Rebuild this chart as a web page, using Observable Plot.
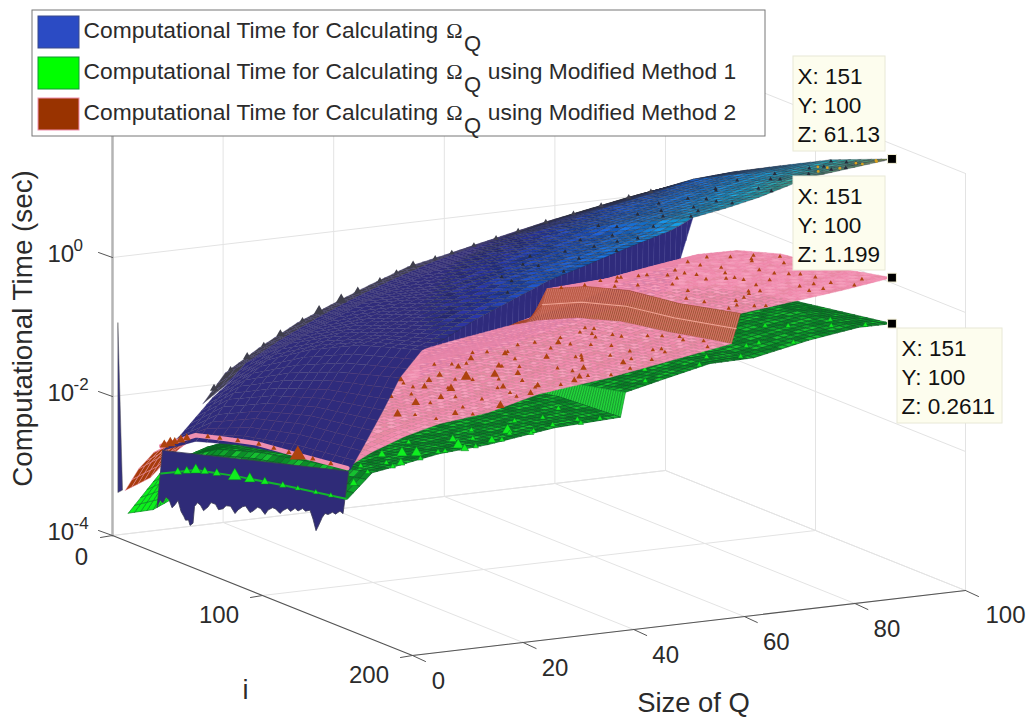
<!DOCTYPE html>
<html><head><meta charset="utf-8">
<style>html,body{margin:0;padding:0;background:#fff}svg{display:block}</style>
<script src="https://cdn.jsdelivr.net/npm/d3@7"></script>
<script src="https://cdn.jsdelivr.net/npm/@observablehq/plot@0.6"></script>
</head><body><div id="chart"></div>
<script>
// ---- Axis ticks
const qTicks=[0,20,40,60,80,100];
const iTicks=[0,100,200];
const zExp=[-4,-2,0,2];
// ---- Surfaces: decades above 10^-4 s, rows by Size of Q, columns by i
const blueI=[5,26,48,77,110,151];
const blueQ=[2,5,8,11,15,19,25,32,38,45,52,60,64,70,76,85,92,100];
const blueL=[
[null,1.43,1.75,1.95,2.10,2.22],
[null,1.60,2.00,2.30,2.50,2.62],
[null,1.85,2.30,2.60,2.85,3.03],
[null,2.10,2.55,2.90,3.20,3.47],
[1.80,2.35,2.80,3.20,3.55,3.83],
[2.20,2.60,3.00,3.35,3.65,3.95],
[2.50,2.85,3.20,3.55,3.85,4.19],
[2.80,3.10,3.45,3.75,4.05,4.42],
[3.00,3.30,3.60,3.90,4.25,4.62],
[3.22,3.50,3.80,4.10,4.40,4.78],
[3.42,3.67,3.95,4.25,4.55,4.95],
[3.55,3.85,4.10,4.40,4.70,5.13],
[3.62,3.92,4.20,4.50,4.85,5.28],
[3.72,4.02,4.30,4.60,4.95,5.36],
[3.82,4.12,4.42,4.72,5.05,5.46],
[3.95,4.25,4.55,4.88,5.22,5.66],
[4.05,4.35,4.68,5.00,5.32,5.72],
[4.14,4.43,4.72,5.05,5.42,5.786]];
const curtainQ=[14.7,25,38,50,60,62,64];
const curtainI=[150,151];
const curtainL=[[3.10,3.83],[3.40,4.19],[3.60,4.62],[3.80,4.95],[4.30,5.13],[4.70,5.20],[5.20,5.28]];
const pinkI=[3,12,22,48,77,110,151];
const pinkQ=[1.5,6,12,18,27,36,49,60,71,72.6,83,91,100];
const pinkL=[
[0.66,1.05,1.37,1.90,2.05,2.15,2.27],
[0.80,1.20,1.50,2.00,2.20,2.35,2.45],
[1.25,1.40,1.65,2.10,2.35,2.50,2.62],
[1.45,1.55,1.75,2.20,2.40,2.55,2.74],
[1.65,1.70,1.90,2.30,2.50,2.65,2.82],
[1.85,1.90,2.05,2.42,2.60,2.78,3.00],
[2.10,2.15,2.25,2.55,2.75,2.92,3.12],
[2.25,2.30,2.40,2.68,2.88,3.05,3.26],
[2.38,2.49,2.62,2.88,3.08,3.21,3.40],
[2.42,2.55,3.06,3.32,3.51,3.61,3.82],
[2.60,2.85,3.10,3.42,3.60,3.72,3.91],
[2.80,3.00,3.20,3.50,3.68,3.82,3.98],
[3.00,3.10,3.30,3.58,3.78,3.88,4.079]];
const greenI=[5,26,48,77,110,151];
const greenQ=[1.5,6,10,18,27,39,50.9,51.8,59,67,75,85,94,100];
const greenL=[
[0.35,1.10,1.30,1.50,1.65,1.81],
[0.36,1.30,1.60,1.80,1.95,2.15],
[0.50,1.40,1.65,1.85,2.00,2.20],
[1.05,1.50,1.75,1.95,2.10,2.31],
[1.25,1.60,1.85,2.05,2.20,2.36],
[1.50,1.80,2.00,2.20,2.35,2.49],
[1.70,2.00,2.20,2.32,2.47,2.53],
[1.75,2.10,2.30,2.50,2.68,2.88],
[1.90,2.25,2.45,2.65,2.80,3.01],
[2.05,2.40,2.60,2.80,2.97,3.15],
[2.20,2.50,2.75,2.93,3.05,3.16],
[2.40,2.65,2.85,3.05,3.20,3.32],
[2.55,2.80,2.95,3.15,3.30,3.42],
[2.65,2.85,3.00,3.15,3.27,3.417]];
// ---- The row of the smallest Q, read along i
const wallI=[26,28,30,32,34,36,38,40,42,44,45,47,48,50,51,53,55,57,60,62,65,67,70,72,75,78,80,83,85,88,90,93,95,98,100,103,105,108,110,113,115,118,120,123,125,128,130,132,133,135,136,138,140,143,145,148,150];
const wallL=[.62,.74,.72,.82,.80,.70,.76,.84,.70,.64,.60,.62,.55,.60,.85,.92,.90,.84,.92,1.00,1.00,.94,.98,1.04,1.06,.98,1.05,1.12,1.15,1.08,1.12,1.20,1.20,1.14,1.22,1.28,1.28,1.24,1.30,1.36,1.33,1.40,1.38,1.44,1.42,1.46,1.35,1.20,1.25,1.36,1.42,1.50,1.50,1.56,1.55,1.62,1.60];
const pinkStripI=[27,50,70,90,120,151];
const pinkStripL=[1.51,1.86,1.98,2.09,2.17,2.26];
const greenStripI=[27,50,76,110,150];
const greenStripL=[1.11,1.36,1.50,1.65,1.81];
const stripBrownI=[29,33,36,40,44,58,66,78,92,102,112,118,128,140];
const stripBrownR=[3.5,4,3,3.5,3,2,2,2,2,2,2,6,2,2];
const stripLimeI=[38,44,50,56,64,76,86,96,108,118,130,140];
const stripLimeR=[3,3,4,3,3,5,4,3,2.5,2,2,2];
// ---- Small spikes on the surfaces
const pinkSpeckQ=[19,22,24,27,29,31,23,26,33,36,38,41,28,34,39,44,47,50,30,37,43,49,53,56,59,35,42,48,55,60,63,66,45,52,58,64,68,70,40,46,54,61,67,69,25,32,21,57,62,51,65,
 74,76,78,80,82,84,86,88,90,92,94,96,98,75,79,83,87,91,95,99,77,81,85,89,93,97,74,78,82,86,90,94,
 18,20,23,25,28,30,32,35,37,40,42,44,47,49,52,54,57,59,62,64,66,69,20,24,27,31,34,38,41,45,48,51,55,58,61,65,68,22,26,29,33,36,39,43,46,50,53,56,60,63,67,70,
 73,75,77,79,81,83,85,87,89,91,93,95,97,99,74,76,80,84,88,92,96,78,82,86,90,94,98];
const pinkSpeckI=[120,98,140,74,112,132,70,88,104,146,78,122,60,66,92,108,138,84,148,124,72,116,94,134,64,82,100,62,110,76,128,96,142,70,118,86,106,136,136,88,146,120,68,126,110,90,84,60,104,126,80,
 42,70,96,126,54,86,112,140,60,92,122,72,104,118,34,64,100,132,46,80,144,52,76,110,136,90,138,148,122,58,74,148,
 105,128,88,148,96,118,76,136,92,110,144,64,98,126,58,114,82,142,70,130,90,112,142,66,134,86,144,100,122,70,140,52,106,132,94,72,146,82,116,62,102,124,138,56,90,148,68,106,84,136,74,120,
 30,106,52,82,38,118,68,94,130,48,108,76,142,90,62,136,44,122,84,102,58,128,74,92,142,112,66];
const pinkSpeckR=[4,3,3,4,3,2,3,5,4,3,3,2,3,4,5,3,3,2,4,3,3,2,3,3,2,3,4,3,2,3,2,2,3,3,2,2,2,2,3,3,2,2,2,2,4,3,3,2,2,3,2,
 2,2,2,2,2,2,2,2,2,2,2,2,2,2,2,2,2,2,2,2,2,2,2,2,2,2,2,2,2,2,2,2,
 2,2,2,2,2,2,2,2,2,2,2,2,2,2,2,2,2,2,2,2,2,2,2,2,2,2,2,2,2,2,2,2,2,2,2,2,2,2,2,2,2,2,2,2,2,2,2,2,2,2,2,2,
 2,2,2,2,2,2,2,2,2,2,2,2,2,2,2,2,2,2,2,2,2,2,2,2,2,2,2];
const greenSpeckQ=[4,8,12,14,17,19,21,24,26,29,31,34,36,38,42,45,47,11,16,23,28,33,57,61,66,70,74,78,83,88,92,96,63,72,80,86,94,6,10,15,20,25,30,35,40,44,48];
const greenSpeckI=[146,136,148,128,140,147,120,142,131,146,125,138,148,128,132,144,124,142,134,150,137,143,145,130,148,138,146,135,148,126,140,148,120,128,136,118,132,148,150,150,148,150,149,150,146,150,148];
const greenSpeckR=[3,2,3,3,4,2,2,4,3,3,2,4,2,2,2,2,2,2,4,3,2,2,2,2,2,2,2,2,2,2,2,2,2,2,2,2,2,2,2,2,2,2,2,2,2,2,2];
const ridgeQ=[14,17,20,23,26,29,33,36,40,43,47,50,53,57,60,64,68,72,77,82,87,92,96];
const ridgeR=[2,3,2,3,2,3,2,4,4,3,2,2,3,2,2,2,2,2,2,2,2,2,2];
const blueSpeckQ=[34,38,42,45,48,51,54,57,60,62,65,67,69,71,73,75,77,79,81,83,85,87,89,91,93,95,97,99,46,52,58,64,70,76,82,88,94,40,50,56,63,72,78,86,92,98];
const blueSpeckI=[138,126,146,118,134,148,122,140,112,132,146,120,136,104,144,126,112,148,132,96,142,118,136,106,146,124,138,114,104,110,98,88,92,84,100,92,118,112,94,130,104,122,96,128,140,128];
const orangeQ=[91,93,94,96,97,98,99,95];
const orangeI=[135,142,130,146,138,148,144,120];
const toneOrder=[0,2,1,3,0,1,2,0,3,1,0,2,3,1,0,3,2,1,0,2,1,3,1];
// ---- Data tips
const tipI=[151,151,151];
const tipQ=[100,100,100];
const tipZ=[61.13,1.199,0.2611];
const legendNames=["Computational Time for Calculating","Computational Time for Calculating","Computational Time for Calculating"];
const legendTails=[""," using Modified Method 1"," using Modified Method 2"];
const legendColors=["#2b4bc4","#00ff00","#993300"];
const legendEdges=["#3a4a8a","#109a30","#f08fae"];

// Oblique view of the box (i, size of Q, decades) onto the picture
const px=(q,i)=>112+5.53*q+1.5*i;
const py=(q,i,l)=>535-0.65*q+0.6*i-69.5*l;
const P=(q,i,l)=>({x:px(q,i),y:py(q,i,l)});

function at(Qs,Is,rows,q,i){
  const a=Math.min(Qs.length-2,Math.max(0,d3.bisectRight(Qs,q)-1));
  const b=Math.min(Is.length-2,Math.max(0,d3.bisectRight(Is,i)-1));
  const u=(q-Qs[a])/(Qs[a+1]-Qs[a]),v=(i-Is[b])/(Is[b+1]-Is[b]);
  const r=rows;
  return (1-u)*((1-v)*r[a][b]+v*r[a][b+1])+u*((1-v)*r[a+1][b]+v*r[a+1][b+1]);
}
// faces of a table, far faces first
function faces(Qs,Is,rows,look){
  const out=[];let id=0;
  for(let a=Qs.length-2;a>=0;a--)for(let b=0;b<Is.length-1;b++){
    if([rows[a][b],rows[a][b+1],rows[a+1][b],rows[a+1][b+1]].some(v=>v==null))continue;
    const s=look(Qs[a],Qs[a+1],Is[b],Is[b+1]);
    const nq=Math.max(1,Math.ceil((Qs[a+1]-Qs[a])/s.dq)),ni=Math.max(1,Math.ceil((Is[b+1]-Is[b])/s.di));
    const L=(u,v)=>(1-u)*((1-v)*rows[a][b]+v*rows[a][b+1])+u*((1-v)*rows[a+1][b]+v*rows[a+1][b+1]);
    for(let m=nq-1;m>=0;m--)for(let n=0;n<ni;n++){
      const u0=m/nq,u1=(m+1)/nq,v0=n/ni,v1=(n+1)/ni;
      const q0=Qs[a]+u0*(Qs[a+1]-Qs[a]),q1=Qs[a]+u1*(Qs[a+1]-Qs[a]);
      const i0=Is[b]+v0*(Is[b+1]-Is[b]),i1=Is[b]+v1*(Is[b+1]-Is[b]);
      const mean=(L(u0,v0)+L(u1,v0)+L(u0,v1)+L(u1,v1))/4;
      id++;
      const st=s.paint(mean,(i0+i1)/2,(q0+q1)/2,toneOrder[id%toneOrder.length]);
      [[q0,i0,L(u0,v0)],[q1,i0,L(u1,v0)],[q1,i1,L(u1,v1)],[q0,i1,L(u0,v1)],[q0,i0,L(u0,v0)]].forEach(c=>{
        out.push({...P(c[0],c[1],c[2]),cell:id,fill:st[0],stroke:st[1]});
      });
    }
  }
  return out;
}
const blueRamp=d3.scaleLinear().domain([3.85,4.2,4.6,4.95,5.25,5.5,5.7,5.79])
  .range(["#2f2b7c","#26329e","#1a55c4","#1678d8","#159cd0","#2aa9a4","#5fa074","#a09040"]).clamp(true);
const shade=[.92,1,1.1,.85];
const blueFaces=faces(blueQ,blueI,blueL,()=>({dq:1.4,di:8,paint:(l,i,q,t)=>{
  const c=d3.rgb(i<20?"#41404c":blueRamp(l));
  const f=l<4?1:shade[t];
  return [`rgb(${c.r*f},${c.g*f},${c.b*f})`,l<3.9?"#3f3a72":"#2c2f3e"];
}}));
const curtainFaces=faces(curtainQ,curtainI,curtainL,()=>({dq:1.1,di:1,paint:()=>["#2f2b7c","#3b3688"]}));
const pinkTones=["#f492b4","#f08aac","#f7a0bd","#e98aa4"];
const pinkFaces=faces(pinkQ,pinkI,pinkL,(q0)=>{
  if(q0===71)return {dq:.8,di:1.4,paint:()=>["#cf7565","#a03a1c"]};
  return {dq:1.2,di:5,paint:(l,i,q,t)=>q<10&&i<24?["#a83c0c","#f08fae"]:[pinkTones[t],"#ea86a8"]};
});
const greenTones=["#0fa52c","#0b8f28","#16c030","#0a7f26"];
const greenFaces=faces(greenQ,greenI,greenL,(q0)=>{
  if(q0===50.9)return {dq:.9,di:1.6,paint:()=>["#23d33a","#0f8f28"]};
  return {dq:1.3,di:4.5,paint:(l,i,q,t)=>q<10&&i<24?["#0cf01c","#0c8a24"]:[greenTones[t],"#0a5f22"]};
});
const wallPoly=[...wallI.map((i,k)=>P(1,i,wallL[k])),P(2,150,2.2),P(2,26,1.43),P(1,26,wallL[0])];
const spikePoly=[P(.7,1,3.06),P(1,3,.67),P(.7,1,.62),P(.7,1,3.06)];
const onPink=pinkSpeckQ.map((q,k)=>({...P(q,pinkSpeckI[k],at(pinkQ,pinkI,pinkL,q,pinkSpeckI[k])),r:pinkSpeckR[k]*.8}));
const onGreen=greenSpeckQ.map((q,k)=>({...P(q,greenSpeckI[k],at(greenQ,greenI,greenL,q,greenSpeckI[k])),r:greenSpeckR[k]}));
const onRidge=ridgeQ.map((q,k)=>({...P(q,5,at(blueQ,blueI,blueL.map(r=>r.map(v=>v==null?0:v)),q,5)),r:ridgeR[k]}));
const onBlue=blueSpeckQ.map((q,k)=>({...P(q,blueSpeckI[k],at(blueQ,blueI,blueL,q,blueSpeckI[k])),r:1.5}));
const onTop=orangeQ.map((q,k)=>({...P(q,orangeI[k],at(blueQ,blueI,blueL,q,orangeI[k])),r:1.4}));
const tips=tipZ.map((z,k)=>P(tipQ[k],tipI[k],Math.log10(z)+4));
const pinkAlong=d3.scaleLinear(pinkStripI,pinkStripL),greenAlong=d3.scaleLinear(greenStripI,greenStripL);
const onPinkStrip=stripBrownI.map((i,k)=>({...P(1.5,i,pinkAlong(i)),r:stripBrownR[k]}));
const onGreenStrip=stripLimeI.map((i,k)=>({...P(1.5,i,greenAlong(i)),r:stripLimeR[k]}));
const bandMid=pinkI.slice(2).map(i=>P(71.8,i,at(pinkQ,pinkI,pinkL,71.8,i)));

// walls and floor
const zTop=zExp[zExp.length-1]+4;
const lines=[];
const add=(a,b)=>{const id=lines.length;lines.push({...a,k:id},{...b,k:id});};
qTicks.slice(1).forEach(q=>{add(P(q,0,0),P(q,200,0));add(P(q,0,0),P(q,0,zTop));});
iTicks.forEach(i=>{add(P(0,i,0),P(100,i,0));if(i)add(P(100,i,0),P(100,i,zTop));});
zExp.forEach(z=>{add(P(0,0,z+4),P(100,0,z+4));add(P(100,0,z+4),P(100,200,z+4));});
const ink="#2b2b2b",sans="Liberation Sans, Arial, sans-serif";
const axisLines=[P(0,0,0),P(0,200,0),P(100,200,0)];
const tickLines=[];
qTicks.forEach(q=>{const a=P(q,200,0);tickLines.push({...a,k:"q"+q},{x:a.x+13,y:a.y+6,k:"q"+q});});
iTicks.forEach(i=>{const a=P(0,i,0);tickLines.push({...a,k:"i"+i},{x:a.x-12,y:a.y+2,k:"i"+i});});
zExp.forEach(z=>{const a=P(0,0,z+4);tickLines.push({...a,k:"z"+z},{x:a.x-14,y:a.y-5,k:"z"+z});});

const qLab=qTicks.map(q=>{const a=P(q,200,0),n=String(q).length;return {x:a.x+[26,32,40][n-1],y:a.y+[26,26,25][n-1],t:String(q)};});
const iLab=iTicks.map(i=>{const a=P(0,i,0);return {x:a.x+(i?-43.5:-31),y:a.y+(i?20:22),t:String(i)};});
const zLab=zExp.slice(0,3).map(z=>{const a=P(0,0,z+4);return {x:a.x-65,y:a.y-3,t:"10",e:String(z)};});

// chrome placed on the page
const legendRows=[30,71,112];
const boxes=[[793,56,885,151],[793,176,885,270],[897,328,1002,423]];
const tipLines=tipZ.flatMap((z,k)=>[`X: ${tipI[k]}`,`Y: ${tipQ[k]}`,`Z: ${z}`].map((t,j)=>({x:boxes[k][0]+4,y:boxes[k][1]+20+j*29,t})));
const T=(data,o)=>Plot.text(data,{x:"x",y:"y",text:"t",fontFamily:sans,fill:ink,...o});
const poly=(data,fill,stroke,w=.5)=>Plot.line(data,{x:"x",y:"y",fill,stroke,strokeWidth:w,curve:"linear"});
const cells=(data,w)=>Plot.line(data,{x:"x",y:"y",z:"cell",fill:"fill",stroke:"stroke",strokeWidth:w,curve:"linear"});
const tri=(data,fill,stroke)=>Plot.dot(data,{x:"x",y:"y",r:"r",symbol:"triangle",fill,stroke,strokeWidth:.5});

const plot=Plot.plot({
  width:1030,height:720,margin:0,
  style:{background:"#fff"},
  x:{domain:[0,1030],range:[0,1030],axis:null},
  y:{domain:[0,720],range:[0,720],axis:null},
  color:{type:"identity"},
  r:{type:"identity"},
  marks:[
    Plot.line(lines,{x:"x",y:"y",z:"k",stroke:"#e3e3e3",strokeWidth:1}),
    Plot.line([P(0,0,0),P(0,0,zTop)],{x:"x",y:"y",stroke:"#b4b4b4",strokeWidth:2.5}),
    Plot.line(axisLines,{x:"x",y:"y",stroke:"#555",strokeWidth:1.1}),
    Plot.line(tickLines,{x:"x",y:"y",z:"k",stroke:"#555",strokeWidth:1}),
    cells(curtainFaces,.5),
    cells(greenFaces,.7),
    tri(onGreen,"#10ee20","#0a7a24"),
    cells(pinkFaces,.4),
    Plot.line(bandMid,{x:"x",y:"y",stroke:"#eda090",strokeWidth:1.2,curve:"linear"}),
    tri(onPink,"#ad430f","none"),
    poly(spikePoly,"#33307e","#555"),
    cells(blueFaces,.35),
    tri(onRidge,"#3f3f4c","none"),
    tri(onBlue,"#252a3a","none"),
    Plot.dot(onTop,{x:"x",y:"y",r:"r",fill:"#d8a020"}),
    poly(wallPoly,"#2f2b78","#3a3a55",.8),
    Plot.line(pinkStripI.map((i,k)=>P(1.5,i,pinkStripL[k])),{x:"x",y:"y",stroke:"#ef8fb0",strokeWidth:4.5,curve:"linear"}),
    tri(onPinkStrip,"#ad430f","none"),
    Plot.line(greenStripI.map((i,k)=>P(1.5,i,greenStripL[k])),{x:"x",y:"y",stroke:"#12b52c",strokeWidth:2,curve:"linear"}),
    tri(onGreenStrip,"#10ee20","#0a7a24"),
    // legend
    Plot.rect([{}],{x1:()=>32,x2:()=>765,y1:()=>10,y2:()=>136,fill:"#fff",stroke:"#777",strokeWidth:1}),
    Plot.rect(legendColors.map((c,k)=>({c,e:legendEdges[k],y:legendRows[k]})),{x1:()=>38,x2:()=>79,y1:d=>d.y-14,y2:d=>d.y+18,fill:"c",stroke:"e",strokeWidth:1}),
    T(legendNames.map((t,k)=>({x:83,y:legendRows[k],t})),{textAnchor:"start",fontSize:22.8}),
    T(legendRows.map(y=>({x:454,y,t:"\u03A9"})),{textAnchor:"middle",fontSize:22,fontFamily:"Liberation Serif, serif"}),
    T(legendRows.map(y=>({x:472,y:y+13,t:"Q"})),{textAnchor:"middle",fontSize:22}),
    T(legendTails.map((t,k)=>({x:481,y:legendRows[k],t})),{textAnchor:"start",fontSize:22.8}),
    // axis text
    T(qLab,{textAnchor:"middle",fontSize:24}),
    T(iLab,{textAnchor:"middle",fontSize:24}),
    T(zLab,{textAnchor:"start",fontSize:24}),
    Plot.text(zLab,{x:d=>d.x+26,y:d=>d.y-9,text:"e",textAnchor:"start",fontSize:17,fontFamily:sans,fill:ink}),
    T([{x:23,y:328,t:"Computational Time (sec)"}],{rotate:-90,fontSize:27.8}),
    T([{x:693,y:703,t:"Size of Q"}],{fontSize:27.4}),
    T([{x:245,y:690,t:"i"}],{fontSize:27}),
    // data tips
    Plot.rect(boxes,{x1:d=>d[0],y1:d=>d[1],x2:d=>d[2],y2:d=>d[3],fill:"#fdfdee",stroke:"#e8e8d6",strokeWidth:1}),
    T(tipLines,{textAnchor:"start",fontSize:22.5,fill:"#111"}),
    Plot.dot(tips,{x:"x",y:"y",symbol:"square",r:5,fill:"#000",stroke:"#f5f2d8",strokeWidth:1})
  ]
});
document.getElementById("chart").appendChild(plot);
</script></body></html>
